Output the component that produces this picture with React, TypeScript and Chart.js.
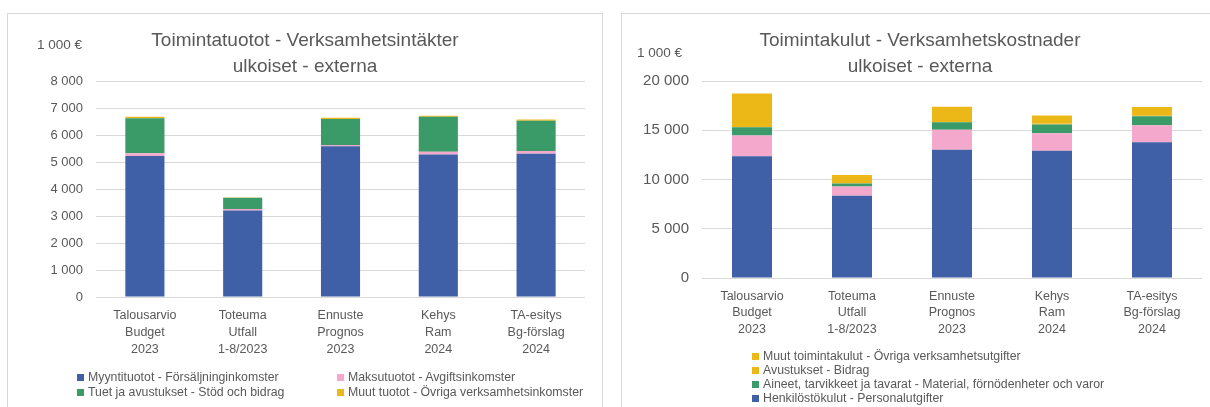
import React, { useEffect, useRef } from 'react';
import { Chart, registerables } from 'chart.js';

Chart.register(...registerables);

// ---------- data ----------
const categories: string[][] = [
  ['Talousarvio', 'Budget', '2023'],
  ['Toteuma', 'Utfall', '1-8/2023'],
  ['Ennuste', 'Prognos', '2023'],
  ['Kehys', 'Ram', '2024'],
  ['TA-esitys', 'Bg-förslag', '2024'],
];

const incomeTitle = ['Toimintatuotot - Verksamhetsintäkter', 'ulkoiset - externa'];
const incomeSalesLabel = 'Myyntituotot - Försäljninginkomster';
const incomeFeesLabel = 'Maksutuotot - Avgiftsinkomster';
const incomeSubsidiesLabel = 'Tuet ja avustukset - Stöd och bidrag';
const incomeOtherLabel = 'Muut tuotot - Övriga verksamhetsinkomster';
const incomeSales = [5220, 3200, 5580, 5280, 5310];
const incomeFees = [100, 60, 50, 100, 100];
const incomeSubsidies = [1300, 420, 960, 1300, 1120];
const incomeOther = [60, 5, 50, 30, 40];
const incomeAxisMax = 8000;
const incomeAxisStep = 1000;

const costTitle = ['Toimintakulut - Verksamhetskostnader', 'ulkoiset - externa'];
const costPersonnelLabel = 'Henkilöstökulut - Personalutgifter';
const costServicesLabel = 'Palvelujen ostot - Köp av tjänster';
const costMaterialsLabel = 'Aineet, tarvikkeet ja tavarat - Material, förnödenheter och varor';
const costGrantsLabel = 'Avustukset - Bidrag';
const costOtherLabel = 'Muut toimintakulut - Övriga verksamhetsutgifter';
const costPersonnel = [12350, 8340, 13030, 12930, 13780];
const costServices = [2110, 950, 2010, 1760, 1730];
const costMaterials = [850, 300, 780, 890, 920];
const costGrants = [120, 50, 110, 100, 100];
const costOther = [3310, 810, 1460, 820, 820];
const costAxisMax = 20000;
const costAxisStep = 5000;

const unitLabel = '1 000 €';

// ---------- styles ----------
const FONT = "'Liberation Sans', Arial, sans-serif";
const TEXT = '#595959';
const GRID = '#d9d9d9';
const BLUE = '#3f5fa6';
const PINK = '#f3a8cc';
const GREEN = '#3a9a68';
const YELLOW = '#ecb818';

const fmt = (v: number | string) =>
  String(v).replace(/\B(?=(\d{3})+(?!\d))/g, ' ');

type DS = { label: string; data: number[]; color: string };

type Layout = {
  yWidth: number;
  xHeight: number;
  padRight: number;
  padTop: number;
  labelLineHeight: string;
  yFontSize: number;
  xFontSize: number;
};

function buildConfig(datasets: DS[], yMax: number, yStep: number, L: Layout): any {
  return {
    type: 'bar',
    data: {
      labels: categories,
      datasets: datasets.map((d) => ({
        label: d.label,
        data: d.data,
        backgroundColor: d.color,
        borderWidth: 0,
        categoryPercentage: 0.4,
        barPercentage: 1,
        stack: 's',
      })),
    },
    options: {
      responsive: false,
      animation: false,
      layout: { padding: { left: 0, right: L.padRight, top: L.padTop, bottom: 0 } },
      plugins: {
        legend: { display: false },
        title: { display: false },
        tooltip: { enabled: false },
      },
      scales: {
        x: {
          stacked: true,
          grid: { display: false, drawTicks: false },
          border: { display: false },
          ticks: {
            color: TEXT,
            font: { family: FONT, size: L.xFontSize, lineHeight: L.labelLineHeight },
            padding: 10,
            maxRotation: 0,
            autoSkip: false,
          },
          afterFit: (s: any) => {
            s.height = L.xHeight;
          },
        },
        y: {
          stacked: true,
          min: 0,
          max: yMax,
          grid: { color: GRID, lineWidth: 1, drawTicks: false },
          border: { display: false },
          ticks: {
            stepSize: yStep,
            color: TEXT,
            font: { family: FONT, size: L.yFontSize },
            padding: 13,
            callback: (v: any) => fmt(v),
          },
          afterFit: (s: any) => {
            s.width = L.yWidth;
          },
        },
      },
    },
  };
}

function ChartCanvas({
  config,
  left,
  top,
  width,
  height,
}: {
  config: any;
  left: number;
  top: number;
  width: number;
  height: number;
}) {
  const ref = useRef<HTMLCanvasElement | null>(null);
  useEffect(() => {
    if (!ref.current) return;
    const chart = new Chart(ref.current, config);
    return () => chart.destroy();
  }, [config]);
  return (
    <canvas
      ref={ref}
      width={width}
      height={height}
      style={{ position: 'absolute', left, top, width, height }}
    />
  );
}

type LegendEntry = { label: string; color: string; x: number; y: number };

function Legend({ items }: { items: LegendEntry[] }) {
  return (
    <>
      {items.map((it) => (
        <div
          key={it.label}
          style={{
            position: 'absolute',
            left: it.x,
            top: it.y - 8,
            height: 16,
            lineHeight: '16px',
            display: 'flex',
            alignItems: 'center',
            whiteSpace: 'nowrap',
            fontFamily: FONT,
            fontSize: 12.3,
            color: TEXT,
          }}
        >
          <span
            style={{
              display: 'inline-block',
              width: 7,
              height: 7,
              background: it.color,
              marginRight: 4,
            }}
          />
          {it.label}
        </div>
      ))}
    </>
  );
}

function Title({ lines, cx }: { lines: string[]; cx: number }) {
  return (
    <div
      style={{
        position: 'absolute',
        left: cx - 300,
        width: 600,
        top: 27,
        textAlign: 'center',
        fontFamily: FONT,
        fontSize: 19,
        lineHeight: '26px',
        color: TEXT,
      }}
    >
      {lines.map((l) => (
        <div key={l}>{l}</div>
      ))}
    </div>
  );
}

function Unit({ x, y }: { x: number; y: number }) {
  return (
    <div
      style={{
        position: 'absolute',
        left: x,
        top: y - 8,
        lineHeight: '16px',
        fontFamily: FONT,
        fontSize: 13.5,
        color: TEXT,
        whiteSpace: 'nowrap',
      }}
    >
      {unitLabel}
    </div>
  );
}

const incomeDatasets: DS[] = [
  { label: incomeSalesLabel, data: incomeSales, color: BLUE },
  { label: incomeFeesLabel, data: incomeFees, color: PINK },
  { label: incomeSubsidiesLabel, data: incomeSubsidies, color: GREEN },
  { label: incomeOtherLabel, data: incomeOther, color: YELLOW },
];

const costDatasets: DS[] = [
  { label: costPersonnelLabel, data: costPersonnel, color: BLUE },
  { label: costServicesLabel, data: costServices, color: PINK },
  { label: costMaterialsLabel, data: costMaterials, color: GREEN },
  { label: costGrantsLabel, data: costGrants, color: YELLOW },
  { label: costOtherLabel, data: costOther, color: YELLOW },
];

const incomeConfig = buildConfig(incomeDatasets, incomeAxisMax, incomeAxisStep, {
  yWidth: 88,
  xHeight: 110,
  padRight: 17,
  padTop: 67,
  labelLineHeight: '17px',
  yFontSize: 13,
  xFontSize: 12.5,
});
const costConfig = buildConfig(costDatasets, costAxisMax, costAxisStep, {
  yWidth: 80,
  xHeight: 129,
  padRight: 16,
  padTop: 67,
  labelLineHeight: '16.5px',
  yFontSize: 15,
  xFontSize: 12.5,
});

export default function App() {
  return (
    <div
      style={{
        position: 'absolute',
        left: 0,
        top: 0,
        width: 1210,
        height: 407,
        overflow: 'hidden',
        background: '#ffffff',
      }}
    >
      <div
        style={{
          position: 'absolute',
          left: 7,
          top: 13,
          width: 596,
          height: 420,
          border: `1px solid ${GRID}`,
          boxSizing: 'border-box',
        }}
      />
      <div
        style={{
          position: 'absolute',
          left: 621,
          top: 13,
          width: 620,
          height: 420,
          border: `1px solid ${GRID}`,
          boxSizing: 'border-box',
        }}
      />
      <ChartCanvas config={incomeConfig} left={8} top={14} width={594} height={393} />
      <ChartCanvas config={costConfig} left={622} top={14} width={596} height={393} />
      <Title lines={incomeTitle} cx={305} />
      <Title lines={costTitle} cx={920} />
      <Unit x={37} y={45} />
      <Unit x={637} y={53} />
      <Legend
        items={[
          { label: incomeSalesLabel, color: BLUE, x: 77, y: 377 },
          { label: incomeFeesLabel, color: PINK, x: 337, y: 377 },
          { label: incomeSubsidiesLabel, color: GREEN, x: 77, y: 392 },
          { label: incomeOtherLabel, color: YELLOW, x: 337, y: 392 },
        ]}
      />
      <Legend
        items={[
          { label: costOtherLabel, color: YELLOW, x: 752, y: 356 },
          { label: costGrantsLabel, color: YELLOW, x: 752, y: 370 },
          { label: costMaterialsLabel, color: GREEN, x: 752, y: 384 },
          { label: costPersonnelLabel, color: BLUE, x: 752, y: 398 },
        ]}
      />
    </div>
  );
}
